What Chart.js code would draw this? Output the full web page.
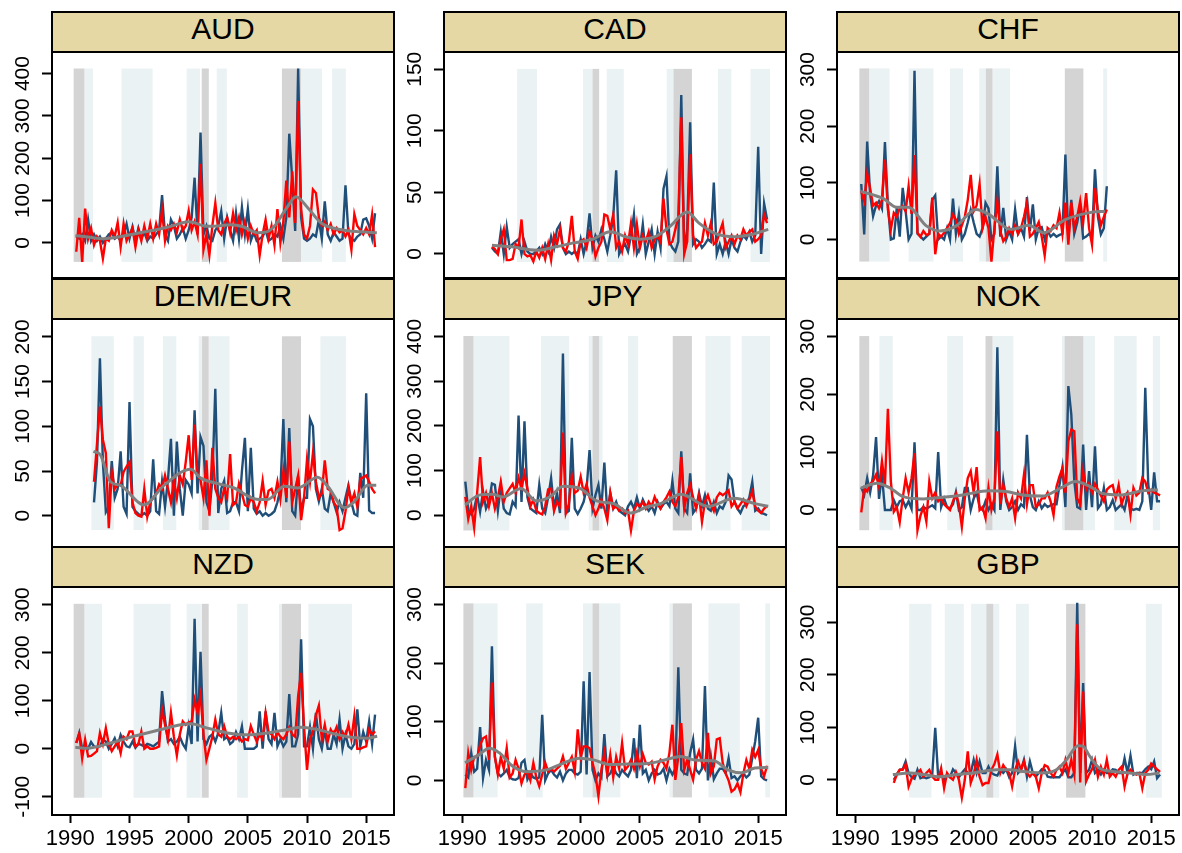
<!DOCTYPE html>
<html>
<head>
<meta charset="utf-8">
<script src="https://cdn.jsdelivr.net/npm/chart.js@4.4.0/dist/chart.umd.min.js"></script>
<style>
  body { margin: 0; background: #fff; width: 1182px; height: 853px; position: relative; overflow: hidden;
         font-family: "Liberation Sans", Arial, sans-serif; }
  .strip { position: absolute; box-sizing: border-box; border: 2px solid #000; background: #e5d8a5;
           text-align: center; font-size: 30px; line-height: 32px; color: #000; }
  canvas { position: absolute; }
</style>
</head>
<body>
<script>
// Quarterly series, one value per quarter from the panel's start
const xTicks = [1990, 1995, 2000, 2005, 2010, 2015];

const audBlue = [15, 10, 20, 5, 55, 5, 20, 5, 15, 0, 10, 20, 25, 10, 15, 5, 20, 45, 10, 38, 5, 35, 10, 25, 5, 15,
  10, 20, 30, 113, 20, 5, 55, 40, 10, 20, 35, 10, 30, 60, 154, 20, 261, 20, 40, 10, 5, 30, 40, 75, 10, 60, 30, 5,
  70, 10, 84, 20, 80, 5, 25, 5, 10, 15, 30, 5, 10, 20, 15, 40, 10, 60, 258, 150, 28, 412, 60, 10, 5, 10, 20, 15,
  55, 10, 98, 20, 5, 25, 15, 5, 10, 136, 20, 10, 5, 15, 20, 55, 58, 40, 10, 70];
const audRed = [-21, 59, -45, 81, 10, 35, -5, 15, 5, -37, 10, 5, 30, 15, 48, -10, 45, 5, 20, 35, -10, 30, 5, 40, 10, 45,
  10, 45, 20, 76, 5, 40, 30, 45, 25, 55, 30, 40, 76, 30, 50, 20, 187, -16, 20, -29, 40, 94, 30, 20, 45, 60, 25, 70,
  30, 60, 20, 50, 10, 40, 20, 30, -29, 20, 55, 10, 40, -5, 80, 0, 50, 147, 60, 169, 47, 335, 80, 20, 10, 40, 126, 118,
  60, 40, 50, 30, 45, 20, 35, 25, 30, 15, 30, -16, 68, 40, 30, 20, 35, 20, 67, -10];
const audTrend = [[1990.42, 17], [1991.5, 14], [1992.8, 10], [1994.3, 15], [1995.9, 24], [1998.2, 37], [2000.03, 50],
  [2001.58, 39], [2002.5, 40], [2003.56, 43], [2004.6, 38], [2005.8, 24], [2006.6, 26], [2007.23, 39], [2008.2, 79],
  [2009.07, 109], [2010.06, 83], [2011.19, 47], [2012.9, 31], [2014.5, 26], [2015.9, 24]];
const audBands = [[1990.28, 1991.19, 'g'], [1991.19, 1991.92, 'b'], [1994.32, 1996.95, 'b'], [1999.83, 2000.96, 'b'],
  [2001.1, 2001.7, 'g'], [2002.37, 2003.22, 'b'], [2007.88, 2009.49, 'g'], [2009.49, 2011.27, 'b'], [2012.12, 2013.28, 'b']];
const audTicks = [0, 100, 200, 300, 400];

const cadBlue = [5, 2, 0, 18, 0, 22, 5, 8, 10, 12, 0, 10, 2, 0, 0, 2, 5, 0, 8, 2, 14, 5, 20, 24, 5, 0, 2, 0, 2, 0,
  12, 0, 10, 33, 5, 15, 10, 20, 12, 2, 15, 30, 68, 0, 5, 8, 2, 15, 32, 0, 5, 24, 0, 10, 20, 0, 18, 5, 53, 63, 10, 5,
  2, 10, 129, 2, 20, 107, 8, 12, 10, 5, 8, 12, 10, 58, 0, 8, 0, 10, 0, 12, 5, 2, 10, 15, 12, 18, 10, 15, 87, 0, 41, 28];
const cadRed = [6, 4, 0, 12, 20, -5, -5, -4, 8, 5, 28, 0, -2, -1, -6, 2, -3, 5, -4, 8, -5, 15, 8, 20, 5, 2, 10, 31, 2, -4,
  10, 12, 5, 18, 12, -2, 5, 10, 32, 31, 20, 32, 5, 10, 2, 15, 8, 25, 5, 24, 5, 15, 10, 18, 5, 12, 15, 10, 45, 20, 8, 10,
  20, 30, 111, 0, 10, 81, 15, 5, 8, 10, 25, 15, 25, 8, 10, 18, 25, 5, 10, 15, 8, 15, 12, 20, 15, 18, 20, 10, 12, 15, 32, 25];
const cadTrend = [[1992.5, 7], [1994, 6], [1996.3, 3], [1998, 6], [1999.4, 9], [2001, 12], [2002.5, 18], [2003.8, 14],
  [2005, 12], [2006.3, 14], [2007.5, 22], [2009, 34], [2010, 25], [2011.3, 17], [2013, 14], [2014.5, 16], [2015.85, 20]];
const cadBands = [[1994.63, 1996.31, 'b'], [2000.2, 2001.0, 'b'], [2001.0, 2001.56, 'g'], [2002.2, 2003.64, 'b'],
  [2007.27, 2007.84, 'b'], [2007.84, 2009.4, 'g'], [2011.6, 2012.73, 'b'], [2014.35, 2016.0, 'b']];
const cadTicks = [0, 50, 100, 150];

const chfBlue = [98, 9, 173, 80, 41, 60, 68, 55, 172, 60, 0, 2, 56, 5, 91, 50, 0, 10, 298, 10, 5, 0, 5, 10, 70, 78,
  0, 5, 0, 20, 0, 72, 10, 45, 0, 10, 30, 52, 30, 10, 5, 20, 65, 55, 0, 10, 129, 5, 56, 0, 15, 0, 53, 10, 20, 5, 75, 15,
  62, 0, 20, 22, 0, 15, 5, 10, 5, 8, 10, 150, 0, 70, 10, 30, 60, 2, 5, 10, 5, 124, 40, 9, 20, 94];
const chfRed = [85, 68, 116, 90, 60, 65, 55, 70, 141, 53, 18, 47, 40, 55, 59, 50, 94, 45, 149, 12, 5, 15, 8, 10, 74, -26,
  10, 5, 12, 20, 29, 44, 35, 10, 25, 40, 70, 114, 50, 60, 98, 20, 40, 20, -39, 20, 68, 15, -3, 5, 20, 10, 25, 10,
  20, 40, 65, 5, 10, 20, 31, 5, -28, 20, 15, 25, 20, 47, 10, 65, -9, 65, 20, 40, 68, 30, 82, 20, -9, 91, 50, 25, 40, 53];
const chfTrend = [[1990.47, 85], [1992.37, 72], [1993.49, 57], [1994.47, 57], [1996.0, 24], [1997.12, 15], [1998.52, 24],
  [2000.2, 53], [2001.31, 44], [2003.13, 18], [2004.66, 25], [2005.92, 12], [2007.74, 35], [2009.69, 47], [2011.09, 50]];
const chfBands = [[1990.34, 1991.17, 'g'], [1991.17, 1992.9, 'b'], [1994.5, 1996.6, 'b'], [1998.0, 1999.1, 'b'],
  [2000.47, 2001.03, 'b'], [2001.03, 2001.59, 'g'], [2001.59, 2003.07, 'b'], [2007.7, 2009.27, 'g'], [2010.95, 2011.28, 'b']];
const chfTicks = [0, 100, 200, 300];

const demBlue = [15, 60, 176, 60, 4, 10, 61, 20, 30, 72, 10, 2, 127, 10, 5, 2, 0, 3, 0, 5, 63, 5, 2, 38,
  10, 40, 86, 0, 83, 30, 0, 40, 35, 25, 118, 25, 88, 78, 15, 5, 40, 142, 3, 30, 39, 3, 5, 15, 15, 5, 50, 87,
  5, 76, 8, 2, 5, 0, 3, 0, 2, 5, 15, 30, 108, 15, 98, 5, 0, 44, 5, 20, 20, 108, 100, 30, 16, 30, 8, 5,
  25, 15, 4, 15, 5, 20, 34, 15, 2, 0, 48, 20, 137, 6, 3, 3];
const demRed = [38, 80, 122, 85, 70, -14, 49, 30, 35, 34, 49, 55, 60, 15, 3, 0, -1, 30, -1, 15, 20, 25, 35, 30,
  45, 30, 15, 40, 20, 45, 35, 60, 90, 40, 102, 45, 40, 20, 62, 0, 76, 30, 20, 15, 30, 20, 69, 12, 15, 36, 25, 12,
  10, 20, 15, 5, 15, 39, 12, 28, 30, 20, 38, 18, 50, 20, 83, 15, 30, 45, -5, 20, 63, 38, 70, 38, 20, 25, 62, 30,
  28, 15, 10, -16, -14, 5, 31, 15, 25, 10, 41, 43, 45, 38, 30, 25];
const demTrend = [[1991.95, 72], [1992.54, 68], [1993.39, 38], [1994.24, 34], [1995.65, 16], [1996.21, 12], [1997.91, 34],
  [2000.17, 52], [2001.02, 42], [2002.43, 36], [2003.84, 31], [2005.54, 19], [2006.67, 18], [2008.08, 33], [2009.21, 31],
  [2010.9, 43], [2011.75, 33], [2013.16, 9], [2014.01, 16], [2015.14, 34], [2015.85, 34]];
const demBands = [[1991.78, 1993.67, 'b'], [1995.34, 1996.21, 'b'], [1997.82, 1998.95, 'b'], [2000.85, 2001.13, 'b'],
  [2001.13, 2001.69, 'g'], [2001.69, 2003.45, 'b'], [2007.88, 2009.49, 'g'], [2011.13, 2013.3, 'b']];
const demTicks = [0, 50, 100, 150, 200];

const jpyBlue = [75, 10, 2, 15, 45, 8, 53, 15, 30, 71, 68, 10, 66, 15, 5, 2, 30, 20, 223, 30, 210, 40, 15, 10, 5, 68, 15,
  5, 40, 83, 15, 50, 5, 362, 5, 10, 173, 15, 3, 15, 30, 60, 146, 15, 45, 68, 15, 118, 3, 50, 15, 30, 10, 5, 0,
  20, 30, 15, 40, 15, 35, 20, 10, 20, 5, 30, 15, 25, 30, 20, 77, 15, 5, 143, 15, 5, 94, 5, 15, 50, 20, 45, 15,
  10, 30, 5, 20, 15, 30, 89, 80, 30, 15, 5, 20, 25, 40, 75, 10, 15, 5, 3, 0];
const jpyRed = [41, -8, 20, -28, 50, 130, 30, 50, 20, 49, 15, 40, 75, 30, 50, 60, 70, 50, 84, 60, 94, 60, 20, 35, 10, 5, 2,
  20, 58, 60, 10, 30, 20, 185, 5, 25, 88, 50, 55, 86, 50, 69, 40, 20, 0, 15, 35, 15, -11, 50, 15, 20, 10, 15, 5,
  10, -34, 10, 25, 20, 30, 15, 30, 20, 41, 25, 15, 30, 40, 53, 30, 20, 40, 130, 15, 50, 68, 40, 15, 45, -15, 30, 45,
  25, 10, 40, 50, 45, 50, 56, 20, 30, 15, 25, 35, 20, 35, 53, 20, 10, 5, 15, 20];
const jpyTrend = [[1990.23, 23], [1991.42, 45], [1992.56, 47], [1993.41, 41], [1994.97, 60], [1996.25, 32], [1997.39, 41],
  [1998.52, 65], [1999.94, 60], [2001.36, 32], [2002.78, 26], [2004.2, 5], [2005.63, 19], [2006.76, 26], [2008.47, 47],
  [2010.74, 20], [2013.01, 38], [2014.72, 26], [2015.85, 20]];
const jpyBands = [[1990.09, 1990.94, 'g'], [1990.94, 1993.98, 'b'], [1996.65, 1999.03, 'b'], [2000.68, 2001.0, 'b'],
  [2001.0, 2001.56, 'g'], [2001.56, 2001.85, 'b'], [2004.0, 2004.86, 'b'], [2007.78, 2009.4, 'g'], [2010.54, 2012.67, 'b'],
  [2013.6, 2016.0, 'b']];
const jpyTicks = [0, 100, 200, 300, 400];

const nokBlue = [39, 26, 55, 30, 60, 126, 19, 61, 0, 0, 0, 17, 5, 15, 17, 5, 15, 2, 117, 0, 0, 5, 2, 5, 8, 3,
  100, 5, 20, 5, 3, 10, 31, 0, 5, 38, 38, 0, 20, 30, 5, 0, 15, 0, 10, 0, 281, 0, 52, 15, 0, 5, 15, 0,
  10, 5, 130, 25, 5, 0, 15, 3, 10, 5, 8, 10, 10, 43, 74, 5, 214, 165, 50, 5, 2, 113, 0, 67, 5, 110, 3, 10,
  38, 0, 5, 17, 0, 5, 10, 0, 26, 3, 0, 2, 0, 15, 211, 45, 0, 65, 15, 15];
const nokRed = [-4, 38, 32, 45, 50, 61, 40, 84, 43, 175, 49, -3, 5, -21, 20, 55, 30, 55, 98, -35, -10, 5, -20, 49, 20, 30,
  15, 20, 10, 5, 0, 15, 29, 10, -29, 20, 55, 67, 30, 74, 0, 5, -14, 38, 0, 20, 136, 10, 43, 20, 5, 20, -14, 30,
  20, 61, 10, 43, 43, 5, 10, 20, 20, 30, 15, -9, 40, 58, 72, 30, 119, 139, 136, 20, 10, 67, 35, 46, 30, 45, 35, 25,
  15, 35, 40, 43, 20, 43, 10, 25, 30, -8, 38, 25, 30, 55, 49, 30, 35, 30, 28, 25];
const nokTrend = [[1990.47, 38], [1991.82, 46], [1992.93, 38], [1994.05, 23], [1995.73, 19], [1997.4, 22], [1999.08, 26],
  [2001.31, 33], [2002.71, 32], [2004.1, 26], [2005.78, 24], [2007.46, 39], [2008.58, 49], [2009.69, 42], [2010.81, 29],
  [2012.49, 26], [2014.16, 33], [2015.56, 35]];
const nokBands = [[1990.34, 1991.17, 'g'], [1992.04, 1993.16, 'b'], [1997.77, 1999.1, 'b'], [2001.0, 2001.59, 'g'],
  [2001.59, 2003.35, 'b'], [2007.46, 2007.68, 'b'], [2007.68, 2009.27, 'g'], [2009.27, 2010.25, 'b'], [2011.87, 2013.77, 'b'],
  [2015.14, 2015.75, 'b']];
const nokTicks = [0, 100, 200, 300];

const nzdBlue = [12, 33, 0, 5, 0, 14, 5, 3, 5, 19, 15, 0, 10, 22, 5, 29, 15, 5, 3, 15, 2, 10, 8, 5, 10, 8,
  5, 10, 15, 120, 61, 15, 20, 10, 15, 25, 10, 0, 47, 10, 271, 15, 202, 20, 10, 25, 30, 15, 33, 75, 20, 25, 10, 15,
  35, 20, 47, 0, 0, 0, 0, 5, 78, 0, 78, 20, 10, 75, 5, 20, 5, 15, 114, 5, 5, 30, 228, 5, 5, 45, 0, 75,
  20, 0, 40, 0, 0, 30, 10, 61, 0, 30, 5, 0, 10, 82, 5, 35, 15, 57, 10, 71];
const nzdRed = [12, 31, -20, 19, -16, -15, -10, -5, 33, 10, 43, 10, -5, 5, 15, -9, 25, 20, 36, 36, 5, 10, 36, 0, 5, 0,
  0, 2, 5, 82, 50, 20, 75, 25, -14, 30, 57, 50, 55, 57, 102, 75, 111, 30, -23, 0, 25, 61, 30, 25, 47, 25, 20, 25,
  20, 25, 15, 20, 18, 47, 30, 15, 30, 20, 75, 35, 30, 20, 35, 25, 20, 30, 45, 30, 25, 110, 158, 45, -44, 20, 35, 70,
  90, 20, 50, 15, 40, 30, 45, 20, 35, 25, 50, 20, 68, 0, 0, 3, 5, 40, 30, 36];
const nzdTrend = [[1990.42, 3], [1991.41, 1], [1993.39, 12], [1995.37, 26], [1997.63, 40], [1999.32, 50], [2000.17, 52],
  [2001.58, 43], [2003.28, 33], [2004.97, 29], [2006.67, 33], [2008.36, 40], [2009.49, 45], [2010.9, 40], [2012.32, 31],
  [2013.73, 24], [2015.14, 22], [2015.93, 26]];
const nzdBands = [[1990.28, 1991.19, 'g'], [1991.19, 1992.68, 'b'], [1995.34, 1998.47, 'b'], [1999.83, 2001.02, 'b'],
  [2001.1, 2001.69, 'g'], [2004.1, 2005.0, 'b'], [2007.63, 2007.88, 'b'], [2007.88, 2009.49, 'g'], [2010.11, 2013.79, 'b']];
const nzdTicks = [-100, 0, 100, 200, 300];

const sekBlue = [10, 5, 47, 15, 20, 91, 4, 35, 18, 229, 40, 12, 7, 12, 18, 5, 2, 1, 4, 30, 35, 2, 12, 5, 3, 5, 112,
  0, 12, 18, 10, 5, 15, 0, 12, 18, 18, 12, 10, 15, 169, 10, 185, 18, 0, 12, 5, 79, 7, 12, 24, 12, 7, 18, 12,
  7, 18, 72, 4, 95, 12, 18, 0, 12, 18, 10, 12, 20, 0, 20, 10, 20, 193, 18, 12, 10, 47, 70, 18, 12, 20, 161, 0,
  41, 2, 12, 20, 20, 12, 38, 4, 7, 0, 7, 12, 5, 10, 38, 67, 107, 7, 2, 0];
const sekRed = [-13, 47, 18, 40, 40, 60, 72, 75, 35, 167, 40, 10, 40, 20, 55, 5, 12, 35, 20, -5, 10, 15, 0, 30, 5, -10, 10,
  30, 15, 20, 15, 20, 25, 41, 20, 30, 40, 15, 87, 40, 58, 58, 55, 30, 10, -27, 18, 47, 10, 44, 5, 40, 20, 64, 18,
  24, 35, 20, 47, 24, 45, 30, 27, 32, 2, 24, 35, 30, 20, 47, 95, 1, 40, 98, 18, 35, 18, 1, 35, 50, 30, 20, 81,
  12, 24, 70, 72, 30, 12, 0, -19, -15, -5, -20, 12, 35, 20, 52, 40, 52, 20, 7, 25];
const sekTrend = [[1990.23, 30], [1991.42, 44], [1992.27, 55], [1993.13, 47], [1994.26, 24], [1995.4, 15], [1997.1, 18],
  [1998.24, 27], [1999.94, 38], [2001.08, 35], [2002.5, 27], [2003.92, 28], [2005.63, 29], [2006.76, 33], [2008.47, 41],
  [2009.6, 35], [2011.31, 33], [2012.44, 18], [2013.58, 13], [2014.72, 21], [2015.85, 22]];
const sekBands = [[1990.09, 1990.94, 'g'], [1990.94, 1992.98, 'b'], [1995.4, 1996.79, 'b'], [2000.2, 2001.0, 'b'],
  [2001.0, 2001.56, 'g'], [2001.56, 2003.35, 'b'], [2007.5, 2007.78, 'b'], [2007.78, 2009.4, 'g'], [2010.8, 2013.44, 'b'],
  [2015.6, 2016.0, 'b']];
const sekTicks = [0, 100, 200, 300];

const gbpBlue = [0, 10, 19, 20, 35, 13, 5, 2, 19, 3, 5, 3, 5, 10, 99, 5, 13, 0, 10, 5, 20, 13, 5, 13, 20, 13, 13,
  38, 13, 35, 13, 13, 25, 13, 10, 8, 19, 13, 20, 5, 13, 64, 13, 19, 38, 6, 35, 13, 6, 13, 20, 19, 6, 5, 5,
  5, 5, 13, 20, 5, 5, 13, 337, 13, 184, 13, 19, 38, 13, 19, 10, 19, 13, 13, 20, 19, 13, 13, 41, 13, 46, 10, 13,
  13, 13, 20, 25, 20, 35, 3, 10];
const gbpRed = [-6, 10, 19, 19, 29, -13, 2, 10, 13, 19, 6, 13, 19, 6, 0, 0, 22, -16, 13, 5, 0, 15, 0, -34, 0, 54, -6,
  10, 38, 6, -10, -6, -6, 19, 30, 48, 13, 28, 19, 13, -13, 19, 35, 19, 35, 13, 6, 13, 6, -16, 13, 28, 25, 13, 6,
  19, 25, 13, 38, 13, 38, 10, 296, -5, 168, -3, 10, 20, 38, 6, 25, 10, 38, 6, 13, 6, 19, 25, -13, 13, 19, 13, 10,
  13, -16, 13, 19, 31, 25, 20, 15];
const gbpTrend = [[1993.17, 10], [1994.63, 13], [1995.76, 10], [1997.16, 6], [1998.57, 10], [1999.97, 13], [2001.94, 19],
  [2003.06, 19], [2004.19, 16], [2005.87, 13], [2006.99, 19], [2007.84, 38], [2008.82, 65], [2009.24, 64], [2009.8, 45],
  [2010.65, 22], [2011.77, 16], [2013.17, 13], [2014.58, 10], [2015.7, 13]];
const gbpBands = [[1994.55, 1996.43, 'b'], [1997.56, 1999.16, 'b'], [1999.78, 2001.07, 'b'], [2001.07, 2001.66, 'g'],
  [2001.66, 2002.16, 'b'], [2003.57, 2004.66, 'b'], [2007.81, 2009.44, 'g'], [2014.55, 2015.9, 'b']];
const gbpTicks = [0, 100, 200, 300];

const panels = [
  { name: 'AUD', start: 1990.5, blue: audBlue, red: audRed, trend: audTrend, bands: audBands, ticks: audTicks, y: [-83, 451], band: [-45, 412] },
  { name: 'CAD', start: 1992.5, blue: cadBlue, red: cadRed, trend: cadTrend, bands: cadBands, ticks: cadTicks, y: [-19.5, 164], band: [-6.5, 150.3] },
  { name: 'CHF', start: 1990.5, blue: chfBlue, red: chfRed, trend: chfTrend, bands: chfBands, ticks: chfTicks, y: [-68, 331], band: [-39, 302] },
  { name: 'DEM/EUR', start: 1992.0, blue: demBlue, red: demRed, trend: demTrend, bands: demBands, ticks: demTicks, y: [-35, 220], band: [-16, 200.7] },
  { name: 'JPY', start: 1990.25, blue: jpyBlue, red: jpyRed, trend: jpyTrend, bands: jpyBands, ticks: jpyTicks, y: [-71, 439], band: [-34, 401] },
  { name: 'NOK', start: 1990.5, blue: nokBlue, red: nokRed, trend: nokTrend, bands: nokBands, ticks: nokTicks, y: [-64, 330], band: [-35, 300.5] },
  { name: 'NZD', start: 1990.5, blue: nzdBlue, red: nzdRed, trend: nzdTrend, bands: nzdBands, ticks: nzdTicks, y: [-138, 337], band: [-102, 302] },
  { name: 'SEK', start: 1990.25, blue: sekBlue, red: sekRed, trend: sekTrend, bands: sekBands, ticks: sekTicks, y: [-59, 330], band: [-29, 302] },
  { name: 'GBP', start: 1993.25, blue: gbpBlue, red: gbpRed, trend: gbpTrend, bands: gbpBands, ticks: gbpTicks, y: [-67, 367], band: [-34, 335] }
];

Chart.defaults.font.family = '"Liberation Sans", Arial, sans-serif';
Chart.defaults.color = '#000';

const colLeft = [52, 444, 837];
const plotW = 342;
const rowTop = [12, 279, 547];
const plotH = [226, 228, 228];
const AXIS_W = 52, XAXIS_H = 38;
const Y_FONT = 21, X_FONT = 22;

// shaded periods behind the lines
const bandsPlugin = {
  id: 'bands',
  beforeDatasetsDraw(chart, args, opts) {
    const { ctx, chartArea: a, scales: { x, y } } = chart;
    const top = y.getPixelForValue(opts.hi), bot = y.getPixelForValue(opts.lo);
    ctx.save();
    ctx.beginPath();
    ctx.rect(a.left, a.top, a.right - a.left, a.bottom - a.top);
    ctx.clip();
    ['b', 'g'].forEach(kind => {
      ctx.fillStyle = kind === 'g' ? '#d4d4d4' : '#eaf2f3';
      opts.list.filter(b => b[2] === kind).forEach(b => {
        const x0 = x.getPixelForValue(b[0]), x1 = x.getPixelForValue(b[1]);
        ctx.fillRect(x0, top, x1 - x0, bot - top);
      });
    });
    ctx.restore();
  }
};

const framePlugin = {
  id: 'frame',
  afterDraw(chart) {
    const { ctx, chartArea: a } = chart;
    ctx.save();
    ctx.strokeStyle = '#000';
    ctx.lineWidth = 2;
    ctx.strokeRect(a.left, a.top, a.right - a.left, a.bottom - a.top);
    ctx.restore();
  }
};

const measure = document.createElement('canvas').getContext('2d');
measure.font = Y_FONT + 'px "Liberation Sans", Arial, sans-serif';

const quarterPts = (start, vals) => vals.map((v, k) => ({ x: start + k * 0.25, y: v }));

panels.forEach((p, i) => {
  const col = i % 3, row = Math.floor(i / 3), bottom = row === 2;

  const strip = document.createElement('div');
  strip.className = 'strip';
  strip.textContent = p.name;
  Object.assign(strip.style, {
    left: (colLeft[col] - 1) + 'px', top: (rowTop[row] - 1) + 'px',
    width: (plotW + 2) + 'px', height: '42px'
  });
  document.body.appendChild(strip);

  const cv = document.createElement('canvas');
  const w = plotW + AXIS_W + 3;
  const h = plotH[row] + 2 + (bottom ? XAXIS_H : 3);
  cv.width = w; cv.height = h;
  Object.assign(cv.style, { left: (colLeft[col] - AXIS_W) + 'px', top: (rowTop[row] + 38) + 'px' });
  document.body.appendChild(cv);

  // keep rotated y labels centred at the same distance from the frame
  const widest = Math.max(...p.ticks.map(t => measure.measureText(String(t)).width));

  new Chart(cv, {
    type: 'line',
    data: {
      datasets: [
        { data: p.trend.map(([x, y]) => ({ x, y })), borderColor: '#808080', borderWidth: 3,
          tension: 0.4, cubicInterpolationMode: 'monotone', order: 0 },
        { data: quarterPts(p.start, p.red), borderColor: '#ff0000', borderWidth: 2.4, tension: 0, order: 1 },
        { data: quarterPts(p.start, p.blue), borderColor: '#1f4e79', borderWidth: 2.4, tension: 0, order: 2 }
      ]
    },
    options: {
      responsive: false,
      animation: false,
      events: [],
      layout: { padding: { top: 2, right: 3, bottom: bottom ? 0 : 3, left: 0 } },
      elements: { point: { radius: 0 } },
      plugins: {
        legend: { display: false },
        tooltip: { enabled: false },
        bands: { list: p.bands, lo: p.band[0], hi: p.band[1] }
      },
      scales: {
        x: {
          type: 'linear', min: 1988.45, max: 2017.35, display: bottom,
          afterBuildTicks: s => { s.ticks = xTicks.map(v => ({ value: v })); },
          afterFit: s => { if (bottom) { s.height = XAXIS_H; s.paddingLeft = 0; s.paddingRight = 0; } },
          grid: { drawOnChartArea: false, tickLength: 8, tickWidth: 2, tickColor: '#000' },
          border: { display: false },
          ticks: { font: { size: X_FONT }, padding: 3, maxRotation: 0, minRotation: 0, autoSkip: false,
                   callback: v => String(v) }
        },
        y: {
          min: p.y[0], max: p.y[1],
          afterBuildTicks: s => { s.ticks = p.ticks.map(v => ({ value: v })); },
          afterFit: s => { s.width = AXIS_W; s.paddingTop = 0; s.paddingBottom = 0; },
          grid: { drawOnChartArea: false, tickLength: 10, tickWidth: 2, tickColor: '#000' },
          border: { display: false },
          ticks: { font: { size: Y_FONT }, minRotation: 90, maxRotation: 90, crossAlign: 'center',
                   padding: 19 - widest / 2, autoSkip: false, callback: v => String(v) }
        }
      }
    },
    plugins: [bandsPlugin, framePlugin]
  });
});
</script>
</body>
</html>
